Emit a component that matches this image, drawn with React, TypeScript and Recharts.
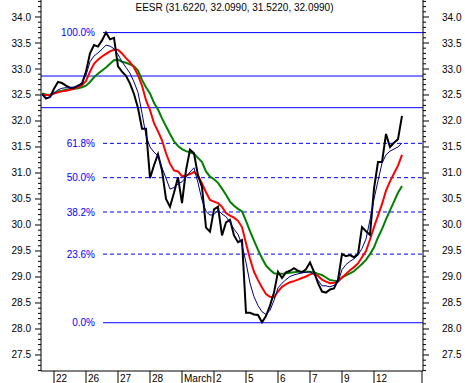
import React from "react";
import { LineChart, Line, XAxis, YAxis, ReferenceLine } from "recharts";

// intraday closes, 8 bars per trading day
const closePrice = [
  32.52, 32.43, 32.46, 32.62, 32.75, 32.73, 32.68, 32.64, 32.64, 32.68,
  32.72, 32.95, 33.3, 33.46, 33.43, 33.55, 33.7, 33.57, 33.6, 33.05,
  32.95, 32.87, 32.72, 32.52, 32.25, 31.85, 31.85, 30.9, 31.15, 31.36,
  31.05, 30.5, 30.35, 30.62, 30.92, 30.42, 31.05, 31.45, 31.38, 30.95,
  30.73, 29.95, 29.87, 30.3, 30.35, 29.8, 30.05, 30.1, 29.8, 29.67,
  29.71, 28.31, 28.31, 28.28, 28.27, 28.13, 28.25, 28.45, 28.7, 29.1,
  28.98, 29.09, 29.12, 29.17, 29.12, 29.09, 29.15, 29.28, 29.1, 28.88,
  28.72, 28.7, 28.76, 28.78, 28.95, 29.44, 29.4, 29.42, 29.38, 29.44,
  29.96, 29.88, 29.81, 30.7, 31.21, 31.21, 31.75, 31.5, 31.58, 31.65,
  32.1,
];

const fastAvg = [
  32.5, 32.45, 32.46, 32.53, 32.6, 32.63, 32.64, 32.64, 32.65, 32.67,
  32.74, 32.88, 33.14, 33.25, 33.31, 33.38, 33.46, 33.44, 33.39, 33.28,
  33.14, 33.03, 32.92, 32.75, 32.55, 32.15, 31.72, 31.5, 31.4, 31.33,
  31.1, 30.9, 30.69, 30.72, 30.79, 30.83, 30.92, 31.02, 31.1, 30.81,
  30.48, 30.26, 30.19, 30.2, 30.29, 30.21, 30.16, 30.05, 29.92, 29.82,
  29.62, 29.28, 28.88, 28.62, 28.45, 28.33, 28.28, 28.36, 28.55, 28.79,
  28.88, 28.95, 29.01, 29.04, 29.06, 29.08, 29.09, 29.1, 29.05, 28.94,
  28.83, 28.83, 28.81, 28.84, 28.9, 29.14, 29.24, 29.3, 29.35, 29.42,
  29.55, 29.73, 30.1, 30.5, 30.85, 31.19, 31.35, 31.42, 31.46, 31.5,
  31.58,
];

const midAvg = [
  32.5, 32.5, 32.5, 32.53, 32.55, 32.57, 32.58, 32.6, 32.62, 32.65,
  32.69, 32.77, 32.95, 33.1, 33.18, 33.24, 33.29, 33.34, 33.37, 33.37,
  33.3, 33.21, 33.13, 33.03, 32.88, 32.68, 32.4, 32.21, 31.96, 31.8,
  31.63, 31.38, 31.18, 31.05, 31.03, 30.94, 30.95, 30.98, 31.02, 30.95,
  30.8, 30.63, 30.48, 30.45, 30.42, 30.35, 30.23, 30.18, 30.14, 30.08,
  29.96, 29.65, 29.35, 29.1, 28.94, 28.8, 28.67, 28.62, 28.61, 28.72,
  28.81, 28.86, 28.9, 28.92, 28.95, 28.98, 29.01, 29.05, 29.07, 29.02,
  28.95, 28.91, 28.88, 28.89, 28.91, 28.99, 29.06, 29.13, 29.19, 29.26,
  29.38, 29.5, 29.72, 29.96, 30.18, 30.4, 30.66, 30.84, 30.99, 31.14,
  31.35,
];

const slowAvg = [
  32.53, 32.51, 32.5, 32.54, 32.57, 32.58, 32.6, 32.61, 32.62, 32.63,
  32.65, 32.68, 32.75, 32.84, 32.91, 32.97, 33.03, 33.1, 33.17, 33.18,
  33.14, 33.12, 33.09, 33.05, 32.97, 32.79, 32.65, 32.53, 32.35, 32.22,
  32.05, 31.9, 31.75, 31.61, 31.52, 31.46, 31.42, 31.4, 31.37, 31.29,
  31.21, 31.03, 30.93, 30.88, 30.81, 30.7, 30.58, 30.45, 30.37, 30.31,
  30.26, 30.08, 29.88, 29.7, 29.52, 29.36, 29.22, 29.14, 29.07, 29.06,
  29.06, 29.07, 29.08, 29.09, 29.1, 29.1, 29.1, 29.1, 29.09, 29.06,
  29.04, 28.99, 28.94, 28.93, 28.92, 28.99, 29.03, 29.07, 29.11, 29.18,
  29.25, 29.33, 29.44, 29.57, 29.76, 29.92, 30.11, 30.28, 30.45, 30.62,
  30.75,
];

const dayTicks = [3, 11, 19, 27, 35, 43, 51, 59, 67, 75, 83, 95];
const dayLabels = ["22", "26", "27", "28", "March", "2", "5", "6", "7", "9", "12", ""];

const priceLabels = [27.5, 28.0, 28.5, 29.0, 29.5, 30.0, 30.5, 31.0, 31.5, 32.0, 32.5, 33.0, 33.5, 34.0];

const fibLabels = ["100.0%", "61.8%", "50.0%", "38.2%", "23.6%", "0.0%"];
const fibValues = [33.7, 31.57, 30.91, 30.25, 29.44, 28.12];
const fibDashed = [false, true, true, true, true, false];
const fibStart = 15.25;

const bandLevels = [32.865, 32.256];

const BLUE = "#0000ff";
const FONT = "'Liberation Sans', Arial, sans-serif";

const data = closePrice.map((c, i) => ({
  t: i,
  close: c,
  fast: fastAvg[i],
  mid: midAvg[i],
  slow: slowAvg[i],
}));

const minorTicks: number[] = [];
for (let v = 272; v <= 343; v++) minorTicks.push(v / 10);

const isLabelled = (v: number) => priceLabels.some((p) => Math.abs(p - v) < 1e-6);

const LeftTick = (props: any) => {
  const { x, y, payload } = props;
  const major = isLabelled(payload.value);
  return (
    <g>
      <line x1={x - (major ? 6 : 3)} x2={x} y1={y} y2={y} stroke="#000" />
      {major && (
        <text x={x - 10} y={y + 3.5} textAnchor="end" fontSize={10} fontFamily={FONT} fill="#000">
          {payload.value.toFixed(1)}
        </text>
      )}
    </g>
  );
};

const RightTick = (props: any) => {
  const { x, y, payload } = props;
  const major = isLabelled(payload.value);
  return (
    <g>
      <line x1={x} x2={x + (major ? 6 : 3)} y1={y} y2={y} stroke="#000" />
      {major && (
        <text x={x + 19} y={y + 3.5} textAnchor="start" fontSize={10} fontFamily={FONT} fill="#000">
          {payload.value.toFixed(1)}
        </text>
      )}
    </g>
  );
};

const DayTick = (props: any) => {
  const { x, y, payload } = props;
  const label = dayLabels[dayTicks.indexOf(payload.value)];
  return (
    <g>
      <line x1={x} x2={x} y1={y} y2={y + 12} stroke="#000" />
      {label && (
        <text x={x + 2} y={y + 11} fontSize={10} fontFamily={FONT} fill="#000">
          {label}
        </text>
      )}
    </g>
  );
};

export default function App() {
  return (
    <div style={{ position: "absolute", left: 0, top: 0, width: 465, height: 383, background: "#fff" }}>
      <div
        style={{
          position: "absolute",
          left: 0,
          width: 465,
          top: 2,
          paddingLeft: 2,
          textAlign: "center",
          fontFamily: FONT,
          fontSize: 10,
          lineHeight: "12px",
          color: "#000",
          zIndex: 2,
        }}
      >
        EESR (31.6220, 32.0990, 31.5220, 32.0990)
      </div>
      <LineChart width={465} height={383} data={data} margin={{ top: 0, right: 0, bottom: 0, left: 0 }}>
        <XAxis
          dataKey="t"
          type="number"
          domain={[-0.25, 95.25]}
          ticks={dayTicks}
          interval={0}
          tickSize={0}
          tickMargin={0}
          tickLine={false}
          height={12}
          axisLine={{ stroke: "#000" }}
          tick={<DayTick />}
        />
        <YAxis
          yAxisId="left"
          orientation="left"
          width={41}
          domain={[27.192, 34.327]}
          allowDataOverflow
          ticks={minorTicks}
          interval={0}
          tickSize={0}
          tickMargin={0}
          tickLine={false}
          axisLine={{ stroke: "#000" }}
          tick={<LeftTick />}
        />
        <YAxis
          yAxisId="right"
          orientation="right"
          width={42}
          domain={[27.192, 34.327]}
          allowDataOverflow
          ticks={minorTicks}
          interval={0}
          tickSize={0}
          tickMargin={0}
          tickLine={false}
          axisLine={{ stroke: "#000" }}
          tick={<RightTick />}
        />
        {bandLevels.map((v) => (
          <ReferenceLine key={"b" + v} yAxisId="left" y={v} stroke={BLUE} strokeWidth={1} />
        ))}
        {fibValues.map((v, i) => (
          <ReferenceLine
            key={"f" + i}
            yAxisId="left"
            segment={[
              { x: fibStart, y: v },
              { x: 95.25, y: v },
            ]}
            stroke={BLUE}
            strokeWidth={1}
            strokeDasharray={fibDashed[i] ? "4 3" : undefined}
            label={{
              value: fibLabels[i],
              position: "left",
              offset: 8,
              fill: BLUE,
              fontSize: 10,
              fontFamily: FONT,
            }}
          />
        ))}
        <Line yAxisId="left" dataKey="slow" stroke="#008000" strokeWidth={2} dot={false} isAnimationActive={false} />
        <Line yAxisId="left" dataKey="mid" stroke="#ff0000" strokeWidth={2} dot={false} isAnimationActive={false} />
        <Line yAxisId="left" dataKey="close" stroke="#000000" strokeWidth={2} dot={false} isAnimationActive={false} />
        <Line yAxisId="left" dataKey="fast" stroke="#000080" strokeWidth={1} dot={false} isAnimationActive={false} />
      </LineChart>
    </div>
  );
}
